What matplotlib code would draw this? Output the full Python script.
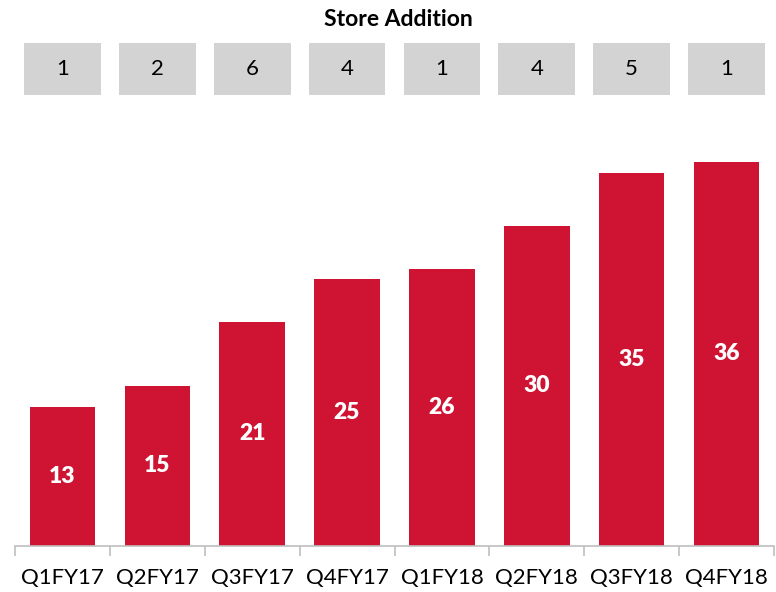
import matplotlib
matplotlib.use("Agg")
import matplotlib.pyplot as plt
from matplotlib.patches import Rectangle
from matplotlib.transforms import blended_transform_factory
import numpy as np

categories = ["Q1FY17", "Q2FY17", "Q3FY17", "Q4FY17", "Q1FY18", "Q2FY18", "Q3FY18", "Q4FY18"]
values = [13, 15, 21, 25, 26, 30, 35, 36]
store_additions = [1, 2, 6, 4, 1, 4, 5, 1]

W, H = 776, 592
fig = plt.figure(figsize=(W / 100, H / 100), dpi=100)
plt.rcParams['font.family'] = ['Lato', 'DejaVu Sans']
ax = fig.add_axes([15 / W, (H - 546) / H, 759 / W, 446 / H])

x = np.arange(len(categories))
bar_color = "#CE1432"
ax.bar(x, values, width=0.69, color=bar_color, zorder=2)
for xi, v in zip(x, values):
    ax.text(xi, v / 2, str(v), ha="center", va="center", color="white",
            fontsize=16.5, fontweight="heavy", zorder=3)

ax.set_xlim(-0.5, len(categories) - 0.5)
ax.set_ylim(0, 41.8)
ax.set_yticks([])
for s in ["top", "right", "left"]:
    ax.spines[s].set_visible(False)
ax.spines["bottom"].set_color("#BFBFBF")
ax.spines["bottom"].set_linewidth(1.2)

ax.set_xticks(x)
ax.set_xticklabels(categories, fontsize=16, color="#000000")
ax.tick_params(axis="x", which="major", length=0, pad=16)
ax.set_xticks(np.arange(-0.5, len(categories)), minor=True)
ax.tick_params(axis="x", which="minor", length=7, color="#BFBFBF", width=1.2)

# Store addition boxes
trans = blended_transform_factory(ax.transData, fig.transFigure)
box_w = 0.81
y0 = (H - 95) / H
bh = (95 - 43) / H
for xi, s in zip(x, store_additions):
    r = Rectangle((xi - box_w / 2, y0), box_w, bh, transform=trans,
                  facecolor="#D3D3D3", edgecolor="none", clip_on=False, zorder=1)
    fig.add_artist(r)
    fig.text(xi, y0 + bh / 2, str(s), transform=trans, ha="center", va="center",
             fontsize=16, color="#000000", zorder=5)

fig.text(398 / W, (H - 19) / H, "Store Addition", ha="center", va="center",
         fontsize=16.5, fontweight="bold", color="#000000")

fig.savefig("out.png", dpi=100)
